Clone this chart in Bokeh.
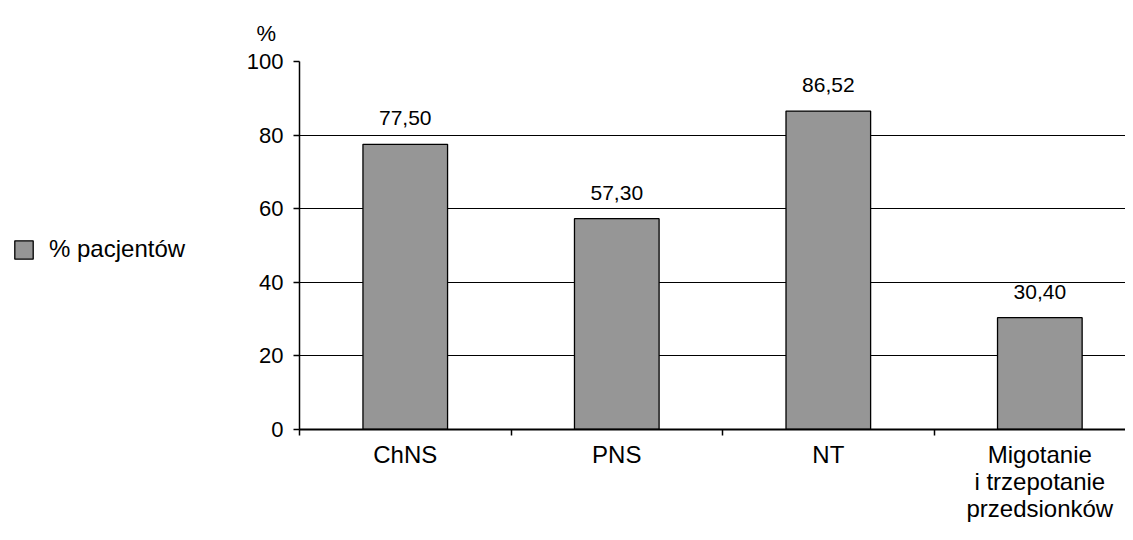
from bokeh.plotting import figure
from bokeh.models import FixedTicker, Legend, LegendItem, Title, ColumnDataSource, Range1d
from bokeh.layouts import row
from bokeh.core.properties import value
from bokeh.embed import file_html
from bokeh.resources import INLINE

categories = ["ChNS", "PNS", "NT", "Migotanie\ni trzepotanie\nprzedsionków"]
values = [77.50, 57.30, 86.52, 30.40]
series_name = "% pacjentów"
y_ticks = [0, 20, 40, 60, 80, 100]

FONT = "Liberation Sans"
BAR_FILL = "#969696"
H = 524
LEFT_W = 240

xs = [i + 0.5 for i in range(len(categories))]
labels = [f"{v:.2f}".replace(".", ",") for v in values]
src = ColumnDataSource(dict(x=xs, top=values, label=labels))

# ---- main chart
p = figure(width=1125 - LEFT_W, height=H, output_backend="svg", toolbar_location=None,
           x_range=Range1d(0, 3.905), y_range=Range1d(0, 100),
           min_border_left=299 - LEFT_W, min_border_right=0, min_border_top=61,
           min_border_bottom=80)
p.outline_line_color = None

bars = p.vbar(x="x", top="top", width=0.4, bottom=0, source=src,
              fill_color=BAR_FILL, line_color="black", line_width=1.3)

p.text(x="x", y="top", text="label", source=src, text_align="center",
       text_baseline="bottom", y_offset=-19, text_font=value(FONT),
       text_font_size="21px", text_color="black")

p.yaxis.ticker = FixedTicker(ticks=y_ticks)
p.yaxis.major_tick_out = 6
p.yaxis.major_tick_in = 0
p.yaxis.minor_tick_line_color = None
p.yaxis.axis_line_color = "black"
p.yaxis.axis_line_width = 1.5
p.yaxis.major_tick_line_color = "black"
p.yaxis.major_tick_line_width = 1.5
p.yaxis.major_label_text_font = FONT
p.yaxis.major_label_text_font_size = "22px"
p.yaxis.major_label_text_color = "black"
p.yaxis.major_label_standoff = 10

p.xaxis.ticker = FixedTicker(ticks=xs, minor_ticks=[0, 1, 2, 3, 4])
p.xaxis.major_label_overrides = {x: c for x, c in zip(xs, categories)}
p.xaxis.major_tick_line_color = None
p.xaxis.minor_tick_out = 6
p.xaxis.minor_tick_in = 0
p.xaxis.minor_tick_line_color = "black"
p.xaxis.minor_tick_line_width = 1.5
p.xaxis.axis_line_color = "black"
p.xaxis.axis_line_width = 2
p.xaxis.major_label_text_font = FONT
p.xaxis.major_label_text_font_size = "24px"
p.xaxis.major_label_text_color = "black"
p.xaxis.major_label_text_line_height = 1.0
p.xaxis.major_label_standoff = 5

p.xgrid.grid_line_color = None
p.ygrid.ticker = FixedTicker(ticks=y_ticks)
p.ygrid.grid_line_color = "black"
p.ygrid.grid_line_width = 1

p.add_layout(Title(text="%", align="left", offset=-43, standoff=27,
                   vertical_align="top", text_line_height=0.8,
                   text_font=FONT, text_font_size="22px",
                   text_font_style="normal", text_color="black"), "above")

# ---- legend panel (hidden proxy renderer supplies the legend swatch)
lg = figure(width=LEFT_W, height=H, output_backend="svg", toolbar_location=None,
            x_range=Range1d(1000, 1000 + LEFT_W), y_range=Range1d(1000, 1000 + H),
            min_border=0, outline_line_color=None)
lg.axis.visible = False
lg.grid.visible = False
proxy = lg.vbar(x="x", top="top", width=0.4, bottom=0, source=src,
                fill_color=BAR_FILL, line_color="black", line_width=1.3)
proxy.visible = False
legend = Legend(items=[LegendItem(label=series_name, renderers=[proxy])],
                location=(12, 166), padding=0, margin=0, spacing=0,
                glyph_width=23, glyph_height=23, label_standoff=14,
                label_text_font=FONT, label_text_font_size="24px",
                label_text_color="black", border_line_color=None,
                background_fill_alpha=0, inactive_fill_alpha=0)
lg.add_layout(legend, "center")

layout = row(lg, p, spacing=0)
open("out.html", "w").write(file_html(layout, INLINE))
